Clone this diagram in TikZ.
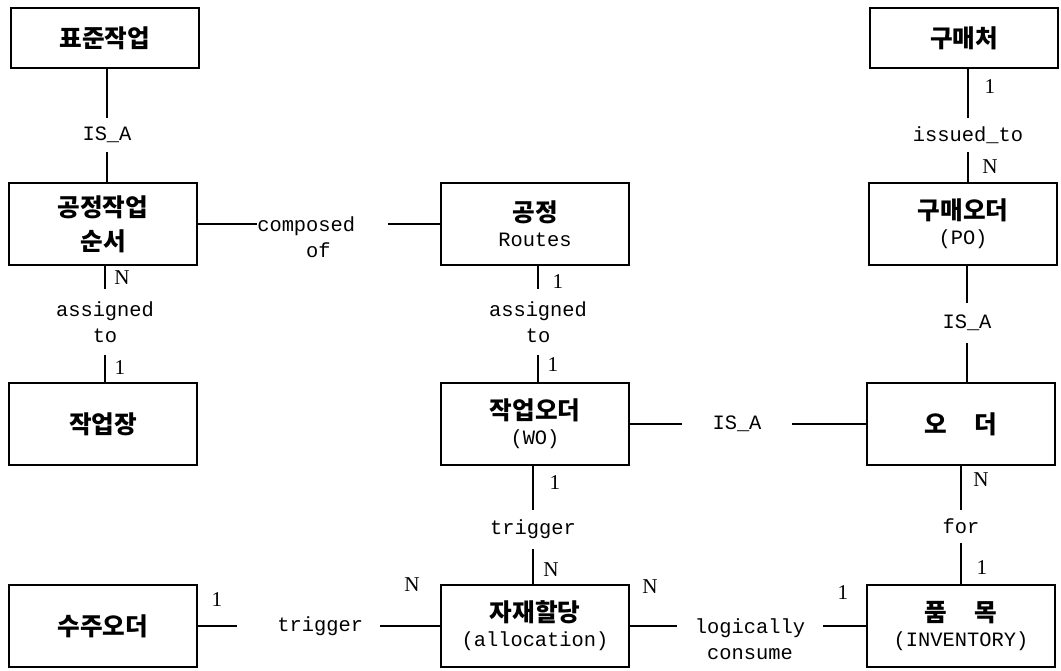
\documentclass[tikz,border=0pt]{standalone}
\usepackage{fontspec}
\setmainfont{Liberation Serif}
\setmonofont{Liberation Mono}
\newfontfamily\kr{Noto Sans CJK KR}
\newcommand{\kname}[1]{{\kr\bfseries #1}}
\newcommand{\lname}[1]{{\ttfamily\fontsize{14.5}{18}\selectfont #1}}

\begin{document}
\begin{tikzpicture}[
    x=0.025cm, y=-0.025cm,
    entity/.style={rectangle, draw, line width=1.3pt, minimum width=4.7cm, minimum height=2.05cm, inner sep=0pt, align=center, font=\fontsize{17.5}{18}\selectfont},
    topentity/.style={entity, minimum height=1.5cm},
    rel/.style={inner sep=0pt, align=center, font=\ttfamily\fontsize{14.5}{18.5}\selectfont},
    card/.style={inner sep=0pt, font=\fontsize{15}{15}\selectfont},
    link/.style={line width=1.1pt}
]
\useasboundingbox (0,0) rectangle (1061,671);

% entities
\node[topentity] (std) at (105,38) {\kname{표준작업}};
\node[entity] (seq) at (103,224) {\kname{공정작업}\\[6pt]\kname{순서}};
\node[entity] (wc) at (103,424) {\kname{작업장}};
\node[entity] (so) at (103,626) {\kname{수주오더}};
\node[entity] (route) at (535,224) {\kname{공정}\\\lname{Routes}};
\node[entity] (wo) at (535,424) {\kname{작업오더}\\\lname{(WO)}};
\node[entity] (alloc) at (535,626) {\kname{자재할당}\\\lname{(allocation)}};
\node[topentity] (vendor) at (964,38) {\kname{구매처}};
\node[entity] (po) at (963,224) {\kname{구매오더}\\\lname{(PO)}};
\node[entity] (ord) at (961,424) {\kname{오\hspace{1.1em}더}};
\node[entity] (inv) at (961,626) {\kname{품\hspace{1.1em}목}\\\lname{(INVENTORY)}};

% relationships
\node[rel, minimum height=0.85cm] (isa1) at (107,135) {IS\_A};
\draw[link] (std.south -| isa1) -- (isa1) -- (seq.north -| isa1);

\node[rel, minimum height=1.625cm] (asg1) at (105,322) {assigned\\to};
\draw[link] (seq.south -| asg1) -- (asg1) -- (wc.north -| asg1);

\node[rel, anchor=north west, text width=3.25cm, align=left] (comp) at (257,216) {composed\\\phantom{comp}of};
\draw[link] (seq) -- (comp.west |- seq);
\draw[link] (comp.east |- route) -- (route);

\node[rel, minimum height=1.625cm] (asg2) at (538,322) {assigned\\to};
\draw[link] (route.south -| asg2) -- (asg2) -- (wo.north -| asg2);

\node[rel, minimum height=0.85cm] (iss) at (968,135) {issued\_to};
\draw[link] (vendor.south -| iss) -- (iss) -- (po.north -| iss);

\node[rel, minimum height=1cm] (isa3) at (967,323) {IS\_A};
\draw[link] (po.south -| isa3) -- (isa3) -- (ord.north -| isa3);

\node[rel, minimum width=2.75cm] (isa2) at (737,424) {IS\_A};
\draw[link] (wo) -- (isa2) -- (ord);

\node[rel, minimum height=0.975cm] (trig1) at (533,529.5) {trigger};
\draw[link] (wo.south -| trig1) -- (trig1) -- (alloc.north -| trig1);

\node[rel, minimum height=0.825cm] (forrel) at (961,526.5) {for};
\draw[link] (ord.south -| forrel) -- (forrel) -- (inv.north -| forrel);

\node[rel, text width=2.725cm, inner xsep=0.425cm, align=right] (trig2) at (308.5,626) {trigger};
\draw[link] (so) -- (trig2) -- (alloc);

\node[rel, anchor=north, text width=3.65cm] (cons) at (750,618) {logically\\consume};
\draw[link] (alloc) -- (cons.west |- alloc);
\draw[link] (cons.east |- inv) -- (inv);

% cardinalities
\node[card] (cSeqWc) at (122,278) {N};
\node[card] (cWcSeq) at (120,368) {1};
\node[card] (cRouteWo) at (558,282) {1};
\node[card] (cWoRoute) at (553,365) {1};
\node[card] (cVendorPo) at (990,87) {1};
\node[card] (cPoVendor) at (990,167) {N};
\node[card] (cWoAlloc) at (555,483) {1};
\node[card] (cAllocWo) at (551,570) {N};
\node[card] (cOrdInv) at (981,480) {N};
\node[card] (cInvOrd) at (982,568) {1};
\node[card] (cSoAlloc) at (217,600) {1};
\node[card] (cAllocSo) at (412,585) {N};
\node[card] (cAllocInv) at (650,587) {N};
\node[card] (cInvAlloc) at (843,593) {1};
\end{tikzpicture}
\end{document}
